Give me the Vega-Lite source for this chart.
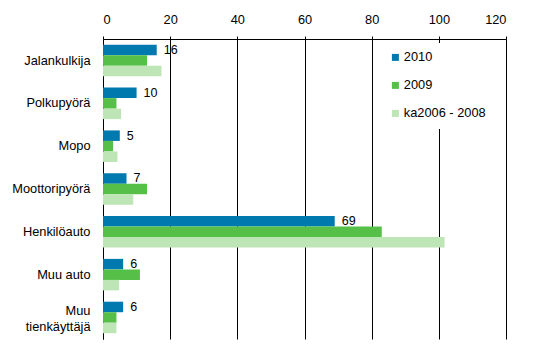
{
  "$schema": "https://vega.github.io/schema/vega-lite/v6.json",
  "width": 403,
  "height": 300,
  "padding": {"left": 103, "top": 39, "right": 42, "bottom": 23},
  "autosize": {"type": "none"},
  "background": "white",
  "config": {
    "view": {"stroke": null},
    "font": "Liberation Sans",
    "axis": {"labelFont": "Liberation Sans", "labelFontSize": 12.8, "labelColor": "black"}
  },
  "data": {
    "values": [
      {"category": "Jalankulkija", "series": "2010", "value": 16},
      {"category": "Jalankulkija", "series": "2009", "value": 13.1},
      {"category": "Jalankulkija", "series": "ka2006 - 2008", "value": 17.4},
      {"category": "Polkupyörä", "series": "2010", "value": 10},
      {"category": "Polkupyörä", "series": "2009", "value": 4},
      {"category": "Polkupyörä", "series": "ka2006 - 2008", "value": 5.4},
      {"category": "Mopo", "series": "2010", "value": 5},
      {"category": "Mopo", "series": "2009", "value": 3},
      {"category": "Mopo", "series": "ka2006 - 2008", "value": 4.3},
      {"category": "Moottoripyörä", "series": "2010", "value": 7},
      {"category": "Moottoripyörä", "series": "2009", "value": 13.1},
      {"category": "Moottoripyörä", "series": "ka2006 - 2008", "value": 9},
      {"category": "Henkilöauto", "series": "2010", "value": 69},
      {"category": "Henkilöauto", "series": "2009", "value": 83},
      {"category": "Henkilöauto", "series": "ka2006 - 2008", "value": 101.7},
      {"category": "Muu auto", "series": "2010", "value": 6},
      {"category": "Muu auto", "series": "2009", "value": 11},
      {"category": "Muu auto", "series": "ka2006 - 2008", "value": 4.8},
      {"category": "Muu tienkäyttäjä", "series": "2010", "value": 6},
      {"category": "Muu tienkäyttäjä", "series": "2009", "value": 4},
      {"category": "Muu tienkäyttäjä", "series": "ka2006 - 2008", "value": 4}
    ]
  },
  "encoding": {
    "y": {
      "field": "category",
      "type": "nominal",
      "sort": null,
      "title": null,
      "scale": {"paddingInner": 0.264, "paddingOuter": 0.135},
      "axis": {
        "ticks": false,
        "domainColor": "black",
        "domainWidth": 1,
        "labelPadding": 13,
        "labelLineHeight": 16,
        "labelOffset": {"condition": {"test": "datum.label == 'Muu tienkäyttäjä'", "value": -6}, "value": 0},
        "labelExpr": "datum.label == 'Muu tienkäyttäjä' ? ['Muu', 'tienkäyttäjä'] : datum.label"
      }
    },
    "yOffset": {
      "field": "series",
      "type": "nominal",
      "sort": ["2010", "2009", "ka2006 - 2008"],
      "scale": {"domain": ["2010", "2009", "ka2006 - 2008"], "paddingInner": 0, "paddingOuter": 0}
    },
    "x": {
      "field": "value",
      "type": "quantitative",
      "title": null,
      "scale": {"domain": [0, 120], "nice": false},
      "axis": {
        "orient": "top",
        "values": [0, 20, 40, 60, 80, 100, 120],
        "grid": true,
        "gridColor": "black",
        "gridOpacity": 1,
        "gridWidth": 1,
        "domainColor": "black",
        "ticks": true,
        "tickSize": 3,
        "tickColor": "black",
        "labelPadding": 10
      }
    }
  },
  "layer": [
    {
      "mark": {"type": "bar"},
      "encoding": {
        "color": {
          "field": "series",
          "type": "nominal",
          "sort": ["2010", "2009", "ka2006 - 2008"],
          "scale": {"domain": ["2010", "2009", "ka2006 - 2008"], "range": ["#0079ae", "#55bf48", "#bde5b5"]},
          "legend": {
            "title": null,
            "orient": "none",
            "legendX": 278,
            "legendY": 4,
            "fillColor": "white",
            "padding": 8,
            "symbolType": "square",
            "symbolSize": 49,
            "symbolStrokeWidth": 0,
            "labelFontSize": 12.8,
            "labelFont": "Liberation Sans",
            "labelColor": "black",
            "labelOffset": 2,
            "rowPadding": 14
          }
        }
      }
    },
    {
      "transform": [{"filter": "datum.series == '2010'"}],
      "mark": {"type": "text", "align": "left", "baseline": "middle", "dx": 7, "fontSize": 12.5, "font": "Liberation Sans", "color": "black"},
      "encoding": {
        "text": {"field": "value", "type": "quantitative", "format": "d"}
      }
    }
  ]
}
